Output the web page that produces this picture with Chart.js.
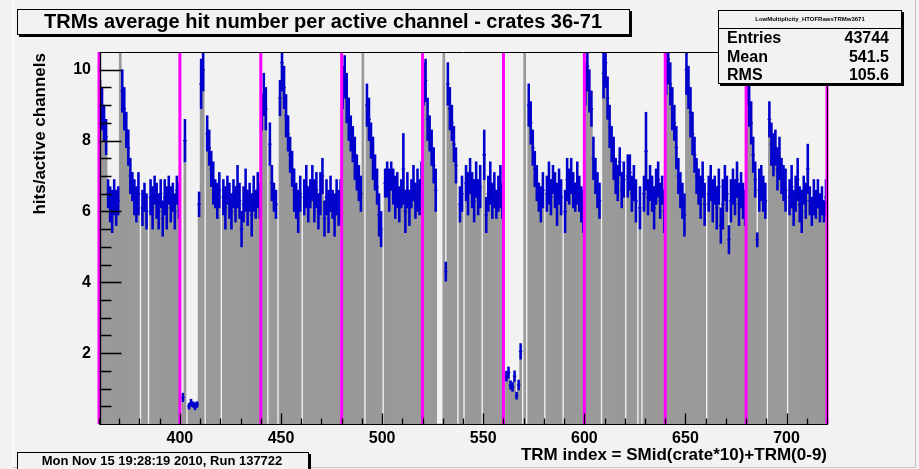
<!DOCTYPE html>
<html>
<head>
<meta charset="utf-8">
<script src="https://cdn.jsdelivr.net/npm/chart.js@4.4.0/dist/chart.umd.min.js"></script>
<style>
    html, body { margin: 0; padding: 0; background: #f2f2f2; }
    #wrap { width: 919px; height: 469px; }
</style>
</head>
<body>
<div id="wrap"><canvas id="myChart" width="919" height="469"></canvas></div>
<script>
        // histogram: one bin per TRM index, first bin starts at 360
        const firstBin = 360;
        const hitsPerChannel = [
            9.2, 8.9, 8.5, 8.1, 6.5, 6.2, 6.0, 6.4, 6.1, 6.3,
            11, 9.4, 8.9, 8.3, 7.8, 7.0, 6.7, 6.4, 6.2, 6.5,
            0, 6.1, 6.4, 6.0, 0, 6.4, 6.1, 6.6, 6.3, 6.0,
            6.5, 5.8, 6.4, 6.1, 6.6, 6.2, 6.4, 6.0, 6.6, 6.3,
            0, 0.75, 8.0, 0, 0.5, 0.6, 0.55, 0.5, 0.55, 6.2,
            9.6, 10.0, 0, 8.2, 7.8, 7.2, 6.8, 6.5, 6.3, 6.6,
            0, 6.4, 6.1, 6.6, 6.3, 6.0, 6.5, 6.2, 6.7, 6.3,
            5.5, 6.2, 6.6, 6.1, 6.4, 5.9, 6.5, 6.2, 6.6, 6.3,
            8.8, 9.3, 8.9, 0, 7.9, 6.8, 6.4, 6.2, 0, 9.2,
            10.2, 9.5, 8.7, 8.2, 7.6, 7.2, 6.6, 6.3, 6.0, 6.5,
            0, 6.4, 6.7, 6.2, 6.5, 6.8, 6.3, 6.6, 6.0, 6.5,
            7.0, 5.8, 6.4, 6.0, 6.5, 6.2, 5.9, 6.4, 6.1, 6.3,
            9.5, 9.8, 9.2, 8.6, 8.2, 7.9, 7.5, 7.1, 6.8, 6.5,
            11, 0, 9.0, 8.6, 8.0, 7.5, 7.1, 6.7, 5.9, 5.5,
            0, 6.8, 6.9, 6.6, 7.0, 6.7, 6.4, 6.6, 6.2, 6.5,
            7.2, 6.0, 6.6, 6.1, 6.5, 6.8, 6.3, 6.6, 6.4, 6.9,
            9.6, 9.7, 8.6, 8.2, 7.8, 7.3, 6.6, 0, 0, 0,
            11, 4.3, 9.6, 8.9, 8.5, 7.9, 7.3, 0, 6.2, 6.5,
            0, 6.8, 6.5, 7.0, 6.6, 6.3, 6.9, 6.4, 6.7, 0,
            7.6, 5.9, 6.5, 6.8, 6.3, 6.6, 6.2, 6.5, 6.7, 6.3,
            0, 1.35, 1.45, 1.1, 1.05, 1.35, 0.8, 1.1, 2.05, 0,
            11, 0, 9.0, 8.5, 7.8, 7.2, 6.8, 6.4, 6.2, 6.6,
            0, 6.5, 6.8, 6.4, 6.9, 6.6, 6.2, 6.7, 6.4, 0,
            6.0, 6.9, 6.7, 7.0, 6.6, 6.4, 6.8, 6.5, 6.2, 6.0,
            9.6, 10.1, 9.4, 8.9, 7.5, 7.0, 6.6, 6.3, 0, 9.9,
            10.2, 9.2, 8.4, 7.9, 7.5, 7.0, 6.8, 7.4, 6.6, 6.9,
            0, 7.0, 7.1, 6.5, 6.8, 6.3, 0, 6.1, 0, 6.5,
            7.7, 6.4, 6.8, 6.5, 6.1, 6.7, 6.9, 6.3, 6.6, 6.0,
            9.9, 10.3, 9.6, 8.9, 8.5, 7.8, 7.0, 6.6, 6.3, 5.9,
            10.0, 9.5, 8.8, 8.2, 7.6, 7.0, 6.7, 6.4, 6.9, 6.2,
            0, 6.5, 6.8, 6.3, 6.6, 6.1, 6.7, 5.6, 6.2, 6.8,
            6.5, 5.2, 6.3, 6.7, 6.4, 6.9, 6.2, 6.6, 6.3, 6.1,
            9.6, 9.0, 8.5, 7.6, 6.9, 5.2, 6.6, 6.8, 6.5, 6.3,
            0, 8.6, 7.9, 7.6, 7.8, 7.2, 7.5, 7.0, 6.8, 6.6,
            0, 6.4, 6.7, 6.1, 6.5, 6.9, 6.2, 6.0, 6.6, 6.3,
            7.2, 6.3, 6.0, 6.4, 6.2, 6.5, 6.1, 6.3, 6.0, 6.4
        ];
        const hitErrors = [
            0.5, 0.6, 0.5, 0.5, 0.4, 0.5, 0.6, 0.5, 0.5, 0.4,
            0, 0.6, 0.6, 0.5, 0.5, 0.5, 0.4, 0.5, 0.5, 0.6,
            0, 0.5, 0.4, 0.5, 0, 0.5, 0.6, 0.4, 0.5, 0.5,
            0.4, 0.5, 0.5, 0.6, 0.4, 0.5, 0.4, 0.5, 0.4, 0.5,
            0, 0.12, 0.6, 0, 0.08, 0.1, 0.08, 0.1, 0.08, 0.35,
            0.7, 0.6, 0, 0.5, 0.5, 0.5, 0.6, 0.4, 0.5, 0.5,
            0, 0.5, 0.6, 0.4, 0.5, 0.5, 0.4, 0.5, 0.6, 0.5,
            0.5, 0.5, 0.6, 0.5, 0.4, 0.6, 0.5, 0.4, 0.5, 0.5,
            0.5, 0.6, 0.6, 0, 0.6, 0.5, 0.4, 0.4, 0, 0.5,
            0.8, 0.6, 0.6, 0.5, 0.5, 0.5, 0.6, 0.5, 0.6, 0.5,
            0, 0.5, 0.6, 0.5, 0.4, 0.5, 0.6, 0.5, 0.5, 0.6,
            0.5, 0.5, 0.5, 0.6, 0.5, 0.4, 0.6, 0.5, 0.5, 0.6,
            0.6, 0.6, 0.7, 0.6, 0.5, 0.5, 0.6, 0.5, 0.5, 0.5,
            0, 0, 0.6, 0.6, 0.5, 0.6, 0.5, 0.5, 0.6, 0.5,
            0, 0.4, 0.5, 0.6, 0.4, 0.5, 0.6, 0.5, 0.5, 0.4,
            1.0, 0.6, 0.5, 0.5, 0.4, 0.5, 0.5, 0.6, 0.5, 0.5,
            0.6, 0.6, 0.6, 0.5, 0.5, 0.5, 0.6, 0, 0, 0,
            0, 0.27, 0.6, 0.6, 0.5, 0.5, 0.5, 0, 0.5, 0.5,
            0, 0.5, 0.6, 0.5, 0.5, 0.6, 0.5, 0.5, 0.6, 0,
            0.7, 0.5, 0.5, 0.6, 0.5, 0.5, 0.4, 0.5, 0.6, 0.5,
            0, 0.14, 0.16, 0.12, 0.13, 0.15, 0.1, 0.14, 0.22, 0,
            0, 0, 0.6, 0.6, 0.5, 0.5, 0.5, 0.4, 0.5, 0.5,
            0, 0.5, 0.6, 0.5, 0.4, 0.5, 0.6, 0.5, 0.5, 0,
            0.6, 0.6, 0.5, 0.5, 0.5, 0.4, 0.6, 0.5, 0.5, 0.6,
            0.6, 0.7, 0.6, 0.5, 0.6, 0.5, 0.5, 0.5, 0, 0.7,
            0.7, 0.6, 0.6, 0.5, 0.6, 0.5, 0.5, 0.4, 0.5, 0.5,
            0, 0.6, 0.5, 0.5, 0.5, 0.6, 0, 0.6, 0, 0.5,
            1.1, 0.5, 0.5, 0.5, 0.6, 0.5, 0.5, 0.5, 0.4, 0.6,
            0.6, 0.7, 0.6, 0.6, 0.5, 0.6, 0.5, 0.5, 0.5, 0.6,
            0.7, 0.6, 0.7, 0.6, 0.5, 0.5, 0.5, 0.6, 0.5, 0.6,
            0, 0.5, 0.5, 0.6, 0.4, 0.6, 0.5, 0.5, 0.7, 0.5,
            0.5, 0.4, 0.6, 0.5, 0.5, 0.5, 0.6, 0.5, 0.5, 0.5,
            0.6, 0.6, 0.6, 0.5, 0.5, 0.2, 0.6, 0.5, 0.5, 0.5,
            0, 0.5, 0.6, 0.6, 0.5, 0.6, 0.6, 0.5, 0.5, 0.6,
            0, 0.5, 0.6, 0.5, 0.5, 0.6, 0.5, 0.6, 0.4, 0.5,
            0.7, 0.4, 0.4, 0.5, 0.4, 0.4, 0.4, 0.4, 0.3, 0.5
        ];
        const crateLines = [360, 400, 440, 480, 520, 560, 600, 640, 680, 720];
        const xLabelValues = [400, 450, 500, 550, 600, 650, 700];
        const yLabelValues = [2, 4, 6, 8, 10];
        const statNames = ['Entries', 'Mean', 'RMS'];
        const statValues = ['43744', '541.5', '105.6'];
        const histName = 'LowMultiplicity_HTOFRawsTRMw3671';
        const titleText = 'TRMs average hit number per active channel - crates 36-71';
        const xTitle = 'TRM index = SMid(crate*10)+TRM(0-9)';
        const yTitle = 'hits/active channels';
        const dateText = 'Mon Nov 15 19:28:19 2010, Run 137722';
        const yMax = 10.5;

        const FONT = "'Liberation Sans', Arial, Helvetica, sans-serif";

        const barPoints = hitsPerChannel.map((v, i) => ({ x: firstBin + i + 0.5, y: v }));
        const errPoints = [];
        const markPoints = [];
        hitsPerChannel.forEach((v, i) => {
            if (v > 0 && v < yMax) {
                const c = firstBin + i + 0.5;
                errPoints.push({ x: c, y: [v - hitErrors[i], v + hitErrors[i]] });
                markPoints.push({ x: c, y: v });
            }
        });

        function shadowBox(c, x, y, w, h) {
            c.fillStyle = '#000';
            c.fillRect(x + 2, y + 2, w, h);
            c.fillStyle = '#f2f2f2';
            c.fillRect(x, y, w, h);
            c.strokeStyle = '#000';
            c.lineWidth = 1;
            c.strokeRect(x + 0.5, y + 0.5, w - 1, h - 1);
            c.fillStyle = '#000';
        }

        const rootStyle = {
            id: 'rootStyle',
            beforeDraw(chart) {
                const c = chart.ctx;
                c.save();
                c.fillStyle = '#f2f2f2';
                c.fillRect(0, 0, chart.width, chart.height);
                c.restore();
            },
            afterDatasetsDraw(chart) {
                const c = chart.ctx, xs = chart.scales.x, ys = chart.scales.y, a = chart.chartArea;
                c.save();
                // crate separators
                c.strokeStyle = '#ff00ff';
                c.lineWidth = 3;
                crateLines.forEach(v => {
                    const px = xs.getPixelForValue(v);
                    c.beginPath();
                    c.moveTo(px, a.top);
                    c.lineTo(px, a.bottom);
                    c.stroke();
                });
                // frame
                c.strokeStyle = '#000';
                c.lineWidth = 1;
                const l = Math.round(a.left) + 0.5, r = Math.round(a.right) + 0.5;
                const t = Math.round(a.top) + 0.5, b = Math.round(a.bottom) + 0.5;
                c.beginPath();
                c.moveTo(l, b); c.lineTo(r, b); c.lineTo(r, t); c.lineTo(l, t);
                c.stroke();
                c.lineWidth = 1.3;
                c.beginPath();
                c.moveTo(l + 1, t); c.lineTo(l + 1, b);
                c.stroke();
                // inward ticks
                c.lineWidth = 1.3;
                c.beginPath();
                xs.ticks.forEach(tk => {
                    const px = Math.round(xs.getPixelForValue(tk.value)) + 0.5;
                    const len = tk.value % 50 === 0 ? 11 : 6;
                    c.moveTo(px, b);
                    c.lineTo(px, b - len);
                });
                ys.ticks.forEach(tk => {
                    if (tk.value <= 0 || tk.value >= yMax) return;
                    const py = Math.round(ys.getPixelForValue(tk.value)) + 0.5;
                    const len = tk.value % 2 === 0 ? 22 : 12;
                    c.moveTo(l, py);
                    c.lineTo(l + len, py);
                });
                c.stroke();
                c.restore();
            },
            afterDraw(chart) {
                const c = chart.ctx, a = chart.chartArea;
                c.save();
                // canvas border
                c.strokeStyle = '#ffffff';
                c.lineWidth = 1;
                c.beginPath();
                c.moveTo(13.5, 467); c.lineTo(13.5, 0);
                c.stroke();
                c.strokeStyle = '#c4c4c4';
                c.beginPath();
                c.moveTo(13, 467.5); c.lineTo(915.5, 467.5); c.lineTo(915.5, 0);
                c.stroke();

                // title box
                shadowBox(c, 17, 9, 613, 26);
                c.font = 'bold 20px ' + FONT;
                c.textAlign = 'center';
                c.textBaseline = 'middle';
                c.fillText(titleText, 323, 22);

                // stats box
                shadowBox(c, 718, 10, 184, 74);
                c.beginPath();
                c.moveTo(718, 28.5); c.lineTo(902, 28.5);
                c.stroke();
                c.font = 'bold 6px ' + FONT;
                c.fillText(histName, 810, 19);
                c.font = 'bold 16px ' + FONT;
                statNames.forEach((n, i) => {
                    const y = 39 + i * 18.5;
                    c.textAlign = 'left';
                    c.fillText(n, 727, y);
                    c.textAlign = 'right';
                    c.fillText(statValues[i], 889, y);
                });

                // date box
                shadowBox(c, 17, 452, 292, 20);
                c.font = 'bold 13px ' + FONT;
                c.textAlign = 'center';
                c.fillText(dateText, 162, 461);

                // axis titles
                c.font = 'bold 17px ' + FONT;
                c.textAlign = 'right';
                c.fillText(xTitle, a.right, 455);
                c.translate(40, a.top + 1);
                c.rotate(-Math.PI / 2);
                c.fillText(yTitle, 0, 0);
                c.restore();
            }
        };

        const ctx = document.getElementById('myChart').getContext('2d');
        const myChart = new Chart(ctx, {
            type: 'bar',
            data: {
                datasets: [{
                    type: 'line',
                    data: markPoints,
                    showLine: false,
                    pointStyle: 'line',
                    pointRadius: 1.8,
                    pointBorderWidth: 1.3,
                    borderColor: '#0000cc',
                    clip: 0,
                    order: 0
                }, {
                    type: 'bar',
                    data: errPoints,
                    backgroundColor: '#0000cc',
                    barThickness: 1.9,
                    grouped: false,
                    clip: 0,
                    order: 1
                }, {
                    type: 'bar',
                    data: barPoints,
                    backgroundColor: '#999999',
                    barPercentage: 1,
                    categoryPercentage: 1,
                    grouped: false,
                    clip: 0,
                    order: 2
                }]
            },
            plugins: [rootStyle],
            options: {
                responsive: false,
                animation: false,
                devicePixelRatio: 1,
                layout: { padding: { top: 52, right: 92, bottom: 0, left: 0 } },
                plugins: { legend: { display: false }, tooltip: { enabled: false } },
                scales: {
                    x: {
                        type: 'linear',
                        offset: false,
                        min: 360,
                        max: 720,
                        grid: { display: false, drawTicks: false, offset: false },
                        border: { display: false },
                        ticks: {
                            stepSize: 10,
                            autoSkip: false,
                            maxRotation: 0,
                            padding: 5,
                            color: '#000',
                            font: { family: FONT, weight: 'bold', size: 16 },
                            callback: v => xLabelValues.includes(v) ? String(v) : ''
                        },
                        afterFit: s => { s.height = 45; }
                    },
                    y: {
                        min: 0,
                        max: yMax,
                        grid: { display: false, drawTicks: false },
                        border: { display: false },
                        ticks: {
                            stepSize: 0.5,
                            autoSkip: false,
                            padding: 8,
                            color: '#000',
                            font: { family: FONT, weight: 'bold', size: 16 },
                            callback: v => yLabelValues.includes(v) ? String(v) : ''
                        },
                        afterFit: s => { s.width = 99; }
                    }
                }
            }
        });
</script>
</body>
</html>
